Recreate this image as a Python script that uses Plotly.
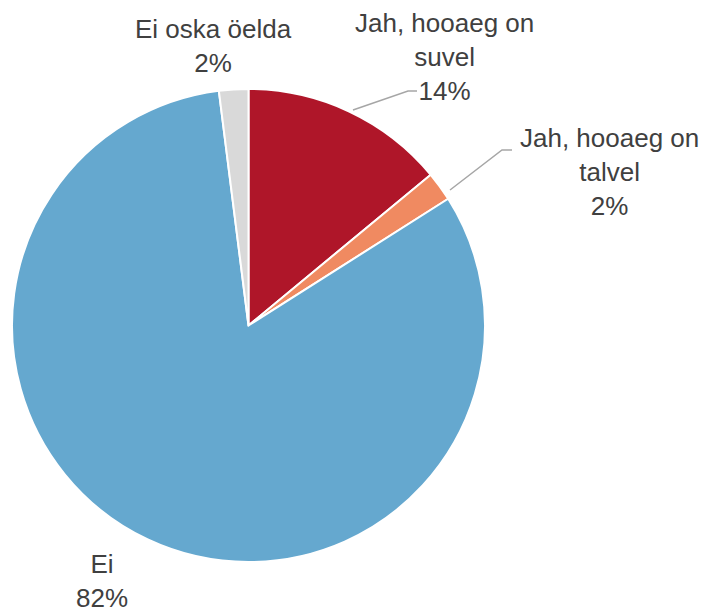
import plotly.graph_objects as go

# The page body has an 8px margin, so the figure starts at (8, 8) in the window.
OFF = 8
W, H = 710 - OFF, 615 - OFF

categories = ["Jah, hooaeg on suvel", "Jah, hooaeg on talvel", "Ei", "Ei oska öelda"]
values = [14, 2, 82, 2]
colors = ["#AF1629", "#F08A61", "#65A8CF", "#D9D9D9"]

# label text per category
label_texts = [
    "Jah, hooaeg on<br>suvel<br>14%",
    "Jah, hooaeg on<br>talvel<br>2%",
    "Ei<br>82%",
    "Ei oska öelda<br>2%",
]
# label block centres in window pixels (x, y)
label_pos = [
    (444.5, 57),
    (609, 172),
    (102, 581),
    (214, 46),
]
# leader lines (window pixel polylines)
leaders = [
    [(353, 110), (408, 91), (417, 91)],
    [(450, 190), (502, 150), (512, 150)],
]


def px(x):
    return (x - OFF) / W


def py(y):
    return 1 - (y - OFF) / H


fig = go.Figure(go.Pie(
    labels=categories,
    values=values,
    sort=False,
    direction="clockwise",
    rotation=0,
    marker=dict(colors=colors, line=dict(color="white", width=2)),
    textinfo="none",
    hoverinfo="label+percent",
    domain=dict(x=[px(12), px(485)], y=[py(565), py(86)]),
    showlegend=False,
))

annotations = []
for t, (cx, cy) in zip(label_texts, label_pos):
    annotations.append(dict(
        text=t, x=px(cx), y=py(cy), xref="paper", yref="paper",
        xanchor="center", yanchor="middle", showarrow=False, align="center",
        font=dict(family="Liberation Sans, Arial, sans-serif", size=26, color="#404040"),
    ))

shapes = []
for pts in leaders:
    path = "M " + " L ".join(f"{px(x)},{py(y)}" for x, y in pts)
    shapes.append(dict(type="path", path=path, xref="paper", yref="paper",
                       line=dict(color="#A6A6A6", width=1.5)))

fig.update_layout(
    width=W, height=H,
    margin=dict(l=0, r=0, t=0, b=0),
    paper_bgcolor="white",
    plot_bgcolor="white",
    annotations=annotations,
    shapes=shapes,
)

fig.write_html("out.html")
